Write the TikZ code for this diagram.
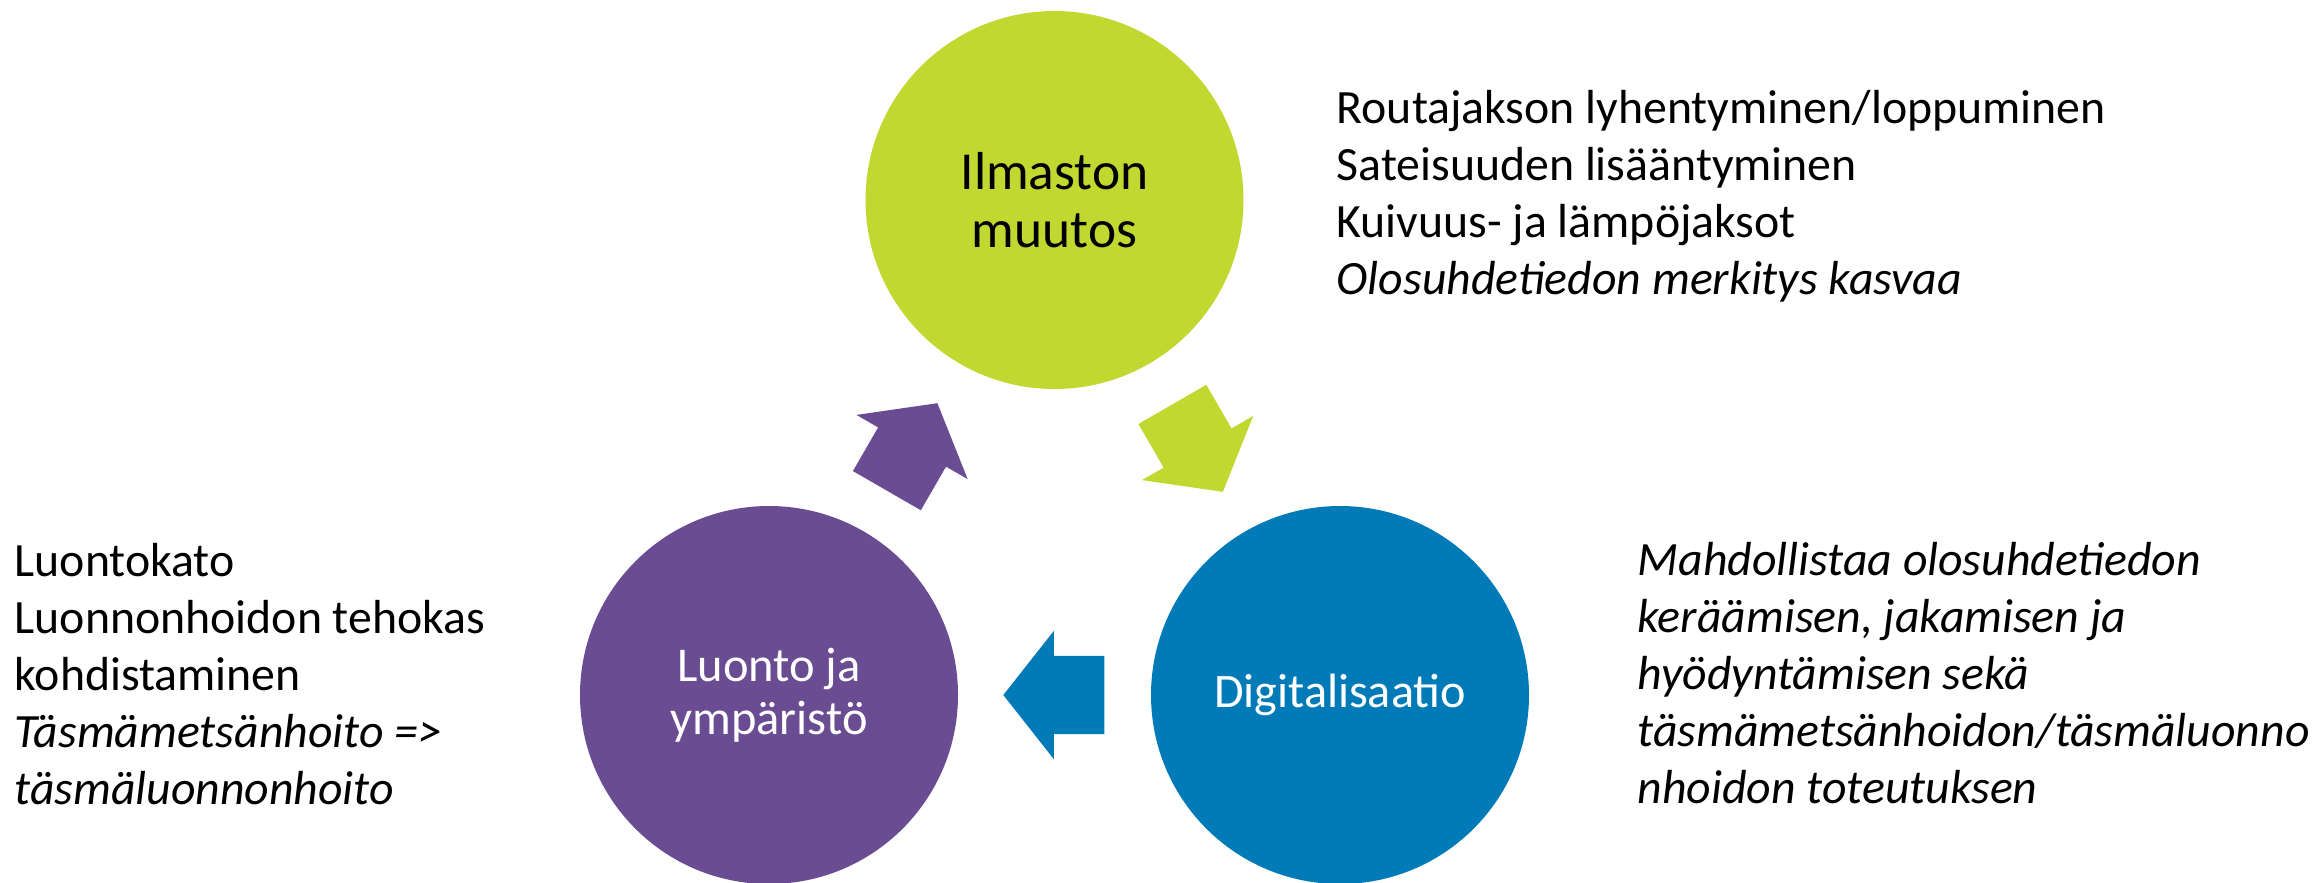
\documentclass[tikz,border=0pt]{standalone}
\usepackage{fontspec}
\setmainfont{Carlito}
\usetikzlibrary{shapes.arrows,calc}

\definecolor{climategreen}{HTML}{C0D82F}
\definecolor{naturepurple}{HTML}{6A4C93}
\definecolor{digiblue}{HTML}{007BB8}

\tikzset{
  theme/.style={circle, minimum size=3.78cm, inner sep=0pt, align=center},
  blockarrow/.style={single arrow, anchor=tail, inner sep=0pt, inner ysep=0.385cm,
    minimum height=1.01cm, minimum width=0pt,
    single arrow head extend=0.25cm, single arrow tip angle=103.5},
  sidetext/.style={anchor=north west, inner sep=0pt, align=left,
    font=\fontsize{13.6}{16.2}\selectfont}
}

\begin{document}
\begin{tikzpicture}
  \useasboundingbox (0,0) rectangle (23.18cm,-8.82cm);

  % Theme circles
  \node[theme, fill=climategreen, font=\fontsize{15.2}{16.6}\selectfont] (climate) at (10.545cm, -2cm) {Ilmaston\\muutos};
  \node[theme, fill=naturepurple, text=white, font=\fontsize{13.8}{15.1}\selectfont] (nature) at (7.69cm, -6.95cm) {Luonto ja\\ympäristö};
  \node[theme, fill=digiblue, text=white, font=\fontsize{13.7}{15}\selectfont] (digital) at (13.4cm, -6.95cm) {Digitalisaatio};

  % Arrows between the circles (tail half a length back from the midpoint)
  \node[blockarrow, fill=climategreen, rotate=-60] (climatearrow) at ($(climate)!0.5!(digital)!0.505cm!(climate)$) {};
  \node[blockarrow, fill=digiblue, rotate=180] (digiarrow) at ($(digital)!0.5!(nature)!0.505cm!(digital)$) {};
  \node[blockarrow, fill=naturepurple, rotate=60] (naturearrow) at ($(nature)!0.5!(climate)!0.505cm!(nature)$) {};

  % Texts beside the circles
  \node[sidetext] (climatetext) at (13.36cm, -0.9cm) {Routajakson lyhentyminen/loppuminen\\Sateisuuden lisääntyminen\\Kuivuus- ja lämpöjaksot\\\textit{Olosuhdetiedon merkitys kasvaa}};
  \node[sidetext] (naturetext) at (0.14cm, -5.43cm) {Luontokato\\Luonnonhoidon tehokas\\kohdistaminen\\\textit{Täsmämetsänhoito =>}\\\textit{täsmäluonnonhoito}};
  \node[sidetext] (digitext) at (16.37cm, -5.42cm) {\textit{Mahdollistaa olosuhdetiedon}\\\textit{keräämisen, jakamisen ja}\\\textit{hyödyntämisen sekä}\\\textit{täsmämetsänhoidon/täsmäluonno}\\\textit{nhoidon toteutuksen}};
\end{tikzpicture}
\end{document}
